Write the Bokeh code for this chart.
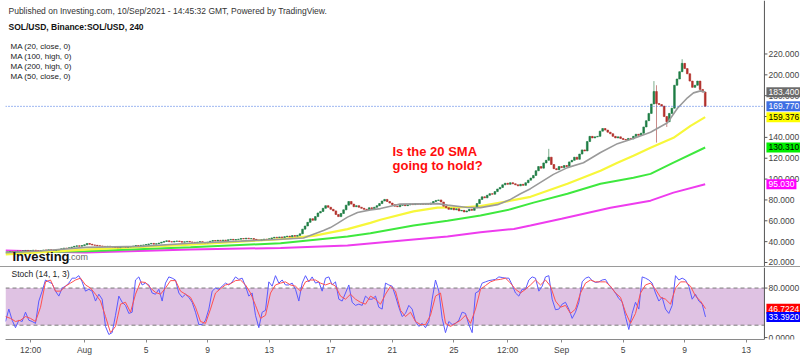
import numpy as np
from bokeh.plotting import figure
from bokeh.models import Range1d, FixedTicker, Label, Span, BoxAnnotation, Div
from bokeh.layouts import column
from bokeh.embed import file_html
from bokeh.resources import INLINE

FONT = "Liberation Sans"

# ---------------- data (time = days from 1 Aug 2021 00:00, 4h candles) ----------------
candle_start_day = -5.0          # 27 Jul 00:00
candle_hours = 4
first_open = 29.6
close = [
    30.0, 30.5, 29.8, 30.6, 31.0, 30.8,
    31.2, 31.6, 31.0, 31.4, 31.8, 31.5,
    31.2, 31.5, 32.0, 31.8, 32.2, 31.9,
    31.6, 32.0, 32.5, 33.2, 33.8, 33.5,
    34.2, 34.8, 35.5, 36.0, 35.6, 36.2,
    37.0, 38.2, 37.5, 36.8, 36.5, 36.0,
    35.8, 35.5, 35.2, 35.6, 35.0, 34.8,
    34.5, 34.2, 34.8, 35.2, 34.6, 34.9,
    35.2, 35.8, 36.3, 36.0, 36.5, 36.8,
    37.2, 37.8, 38.3, 37.6, 38.0, 38.6,
    39.5, 40.2, 40.8, 40.0, 39.6, 40.3,
    40.6, 40.1, 39.5, 39.8, 40.2, 39.7,
    39.4, 39.0, 39.6, 40.0, 39.2, 38.8,
    39.5, 40.4, 41.0, 40.6, 41.3, 41.0,
    41.5, 41.0, 41.8, 42.2, 41.6, 42.0,
    42.4, 43.0, 42.6, 43.3, 42.8, 43.0,
    42.2, 41.6, 41.0, 41.8, 42.4, 42.0,
    42.8, 43.6, 44.2, 43.8, 44.5, 44.0,
    44.8, 45.3, 44.6, 45.8, 45.2, 46.0,
    47.5, 52.0, 55.0, 58.5, 62.0, 60.5,
    64.0, 67.5, 69.0, 72.0, 74.5, 73.0,
    71.0, 69.5, 66.0, 64.0, 67.0, 70.5,
    75.0, 78.5, 76.0, 73.5, 74.5, 73.0,
    72.0, 71.0, 70.5, 72.5, 71.5, 73.0,
    74.5, 76.5, 79.0, 80.5, 78.5, 77.0,
    75.5, 74.0, 73.5, 74.8, 75.5, 74.5,
    75.2, 76.0, 75.5, 76.5, 75.8, 76.3,
    75.8, 76.5, 75.9, 77.0, 78.5, 79.5,
    80.0, 78.0, 74.0, 72.5, 71.0, 72.0,
    70.5, 71.5, 69.5, 70.0, 68.5, 69.5,
    71.0, 70.0, 72.5, 76.5, 80.5, 83.0,
    82.0, 84.5, 86.0, 85.5, 88.0, 90.5,
    92.0, 94.5, 96.0, 95.0, 96.5, 95.5,
    94.5, 93.5, 95.0, 94.0, 96.5, 99.0,
    101.0, 103.5, 108.0, 112.0, 110.5, 115.5,
    118.0, 121.0, 114.0, 110.0, 109.0, 112.0,
    111.0, 113.0, 112.0, 116.5, 118.0, 121.0,
    119.0, 124.0, 128.0, 127.0, 136.0, 141.0,
    139.5, 140.5, 141.0, 146.0, 148.5, 147.0,
    145.0, 143.5, 141.0, 139.5, 140.5, 139.0,
    138.0, 137.5, 139.0, 138.5, 141.0, 143.0,
    142.0, 144.0, 150.0, 156.0, 163.0, 172.0,
    184.0, 172.5, 171.5, 170.0, 160.0, 155.0,
    163.0, 168.0, 190.0, 196.0, 203.0, 211.0,
    206.0, 201.0, 194.0, 188.0, 190.0, 194.0,
    186.0, 183.5, 169.77,
]
wick_high = {211: 129.0, 252: 194.0, 253: 190.0, 263: 215.0}
wick_low = {253: 135.0, 257: 150.0}

ma20_day = [-5.13, -2.86, 0.06, 3.64, 6.89, 10.14, 12.74, 14.23, 15.53, 15.98, 16.44, 17.09, 17.74,
            18.58, 19.23, 19.88, 20.5, 22.94, 23.59, 24.9, 25.73, 26.84, 27.68, 28.33, 28.98, 30.47,
            31.38, 32.42, 33.53, 34.63, 35.67, 36.78, 37.88, 38.53, 39.18, 39.57, 40.03, 40.33]
ma20 = [29.5, 31.0, 34.5, 35.5, 38.5, 40.5, 42.3, 43.5, 50.6, 53.5, 57.5, 63.5, 68.0,
        70.5, 71.7, 74.0, 76.0, 76.5, 75.0, 72.8, 72.6, 75.5, 80.5, 86.0, 90.8, 104.5,
        111.0, 115.7, 125.5, 134.0, 139.0, 145.0, 154.0, 168.0, 178.0, 182.7, 184.6, 183.4]

ma50_day = [-5.13, 0.06, 6.89, 12.74, 14.88, 17.09, 18.58, 19.23, 21.38, 22.94, 24.63, 25.73,
            26.84, 27.68, 28.98, 31.38, 33.53, 34.63, 35.67, 36.78, 38.27, 39.38, 40.33]
ma50 = [27.7, 32.4, 37.0, 42.5, 45.5, 52.0, 58.0, 61.0, 69.0, 72.6, 73.0, 74.0,
        77.0, 79.3, 83.0, 95.6, 108.0, 115.7, 122.4, 130.0, 139.6, 151.0, 159.4]

ma100_day = [-5.13, 0.06, 6.89, 12.74, 17.09, 18.58, 21.38, 23.59, 25.73, 27.68, 29.18, 31.38,
             33.53, 35.67, 36.78, 38.27, 40.33]
ma100 = [29.6, 30.8, 34.6, 38.5, 45.0, 48.0, 55.4, 60.0, 65.0, 71.0, 77.4, 86.0,
         95.6, 101.3, 105.0, 115.7, 130.3]

ma200_day = [-5.13, -2.86, 0.06, 6.89, 12.74, 17.09, 21.38, 23.59, 25.73, 27.9, 28.98, 31.0,
             34.18, 36.78, 38.27, 40.33]
ma200 = [31.5, 30.5, 29.5, 32.4, 34.0, 36.3, 42.0, 44.9, 49.0, 52.2, 55.4, 62.0,
         72.6, 79.3, 87.0, 95.0]

# Stochastic readings, sampled on regular grids starting at the left edge of the chart
k_start_day, k_step_day = -5.133, 0.21659
stoch_k = [
    26, 46, 28, 16, 28, 26, 41, 28, 26, 23,
    59, 75, 93, 90, 87, 75, 67, 80, 83, 88,
    96, 96, 100, 90, 75, 78, 75, 59, 70, 62,
    18, 5, 8, 36, 67, 57, 52, 39, 41, 93,
    98, 85, 88, 85, 72, 70, 78, 59, 88, 98,
    96, 93, 72, 65, 70, 65, 57, 41, 21, 21,
    28, 46, 75, 80, 78, 83, 88, 85, 90, 98,
    94, 96, 83, 67, 72, 36, 16, 41, 44, 90,
    83, 100, 88, 93, 85, 85, 88, 78, 59, 88,
    100, 90, 98, 88, 90, 75, 96, 98, 85, 90,
    62, 59, 72, 85, 57, 52, 54, 52, 67, 62,
    62, 67, 49, 46, 88, 85, 83, 67, 49,
    34, 39, 52, 46, 26, 18, 23, 16, 26, 62,
    93, 75, 31, 8, 26, 21, 23, 28, 41, 39,
    21, 8, 72, 75, 88, 90, 92, 93, 94, 98,
    97, 96, 96, 85, 72, 67, 78, 78, 93, 98,
    96, 75, 83, 98, 100, 62, 45, 46, 54, 57,
    46, 31, 41, 57, 90, 96, 98, 92, 89, 90,
    93, 94, 85, 79, 72, 63, 58, 34, 13, 39,
    57, 46, 98, 96, 93, 88, 72, 59, 65, 46,
    39, 52, 100, 93, 96, 93, 83, 62, 70, 59,
    54, 33.392,
]
d_start_day, d_step_day = -5.133, 0.32489
stoch_d = [
    34, 31, 26, 28, 34, 31, 26, 49, 90, 93,
    75, 75, 83, 88, 93, 96, 85, 80, 70, 59,
    34, 8, 18, 54, 57, 41, 70, 90, 89, 80,
    73, 70, 80, 92, 92, 75, 70, 65, 49, 26,
    23, 46, 72, 79, 85, 87, 92, 93, 85, 72,
    52, 31, 36, 72, 85, 88, 90, 85, 83, 75,
    90, 93, 93, 88, 85, 88, 83, 67, 62, 70,
    62, 57, 54, 67, 62, 54, 70, 83, 75,
    44, 34, 41, 26, 21, 21, 36, 67, 72, 23,
    18, 23, 28, 36, 23, 46, 78, 84, 90, 93,
    94, 96, 88, 78, 72, 78, 85, 93, 85, 93,
    83, 59, 49, 52, 39, 46, 72, 88, 93, 90,
    90, 90, 83, 72, 65, 41, 23, 39, 72, 85,
    88, 78, 65, 62, 54, 80, 90, 90, 83, 67,
    59, 46.7224,
]

price_ticks = [20, 40, 60, 80, 100, 120, 140, 160, 180, 200, 220]
stoch_ticks = [0, 80]
stoch_band = (20, 80)
time_ticks = [-3.5, 0, 4, 8, 12, 16, 20, 24, 27.5, 31, 35, 39, 43]
time_labels = ["12:00", "Aug", "5", "9", "13", "17", "21", "25", "12:00", "Sep", "5", "9", "13"]

last_price = 169.77
ma_tags = [(183.4, "183.400", "#6b6b6b", "white"),
           (169.77, "169.770", "#3f6fe3", "white"),
           (159.376, "159.376", "#ffff00", "black"),
           (130.31, "130.310", "#00ee00", "black"),
           (95.03, "95.030", "#ff00ff", "white")]
stoch_tags = [(46.7224, "46.7224", "#ff0000", "white"),
              (33.392, "33.3920", "#0000ff", "white")]

# ---------------- derived candle arrays ----------------
n = len(close)
t = candle_start_day + np.arange(n) * candle_hours / 24.0
opens = [first_open] + close[:-1]
highs = [max(o, c) for o, c in zip(opens, close)]
lows = [min(o, c) for o, c in zip(opens, close)]
for i, v in wick_high.items():
    highs[i] = v
for i, v in wick_low.items():
    lows[i] = v
up = [c >= o for o, c in zip(opens, close)]
body_col = ["#1f7d45" if u else "#b3302b" for u in up]
wick_col = ["#7fae8f" if u else "#c98a88" for u in up]
tops = [max(o, c) for o, c in zip(opens, close)]
bots = [min(o, c) for o, c in zip(opens, close)]

# ---------------- layout constants ----------------
W = 800
MAIN_H = 266
BL = 5
PX_PER_DAY = 15.39
X0 = -5.133                      # day at the left edge of the plotting area
X_AXIS = 44.18                   # day where the price scale starts
FRAME_W = W - BL
xr = Range1d(X0, X0 + FRAME_W / PX_PER_DAY)
TICK_LEN = 3 / PX_PER_DAY
LABEL_X = X_AXIS + 4 / PX_PER_DAY
TAG_SX = (X_AXIS - X0) * PX_PER_DAY + 2


def right_scale(fig, ticks, fmt):
    fig.add_layout(Span(location=X_AXIS, dimension="height", line_color="#555555", line_width=1))
    fig.segment(x0=[X_AXIS] * len(ticks), y0=ticks, x1=[X_AXIS + TICK_LEN] * len(ticks), y1=ticks,
                line_color="#555555", line_width=1)
    fig.text(x=[LABEL_X] * len(ticks), y=ticks, text=[fmt % v for v in ticks],
             text_font={"value": FONT}, text_font_size="8.5px", text_color="#444444",
             text_align="left", text_baseline="middle")


def tag(fig, val, text, bg, fg):
    fig.add_layout(Label(x=TAG_SX, y=val, x_units="screen", y_units="data", text=text,
                         text_font=FONT, text_font_size="8.5px", text_color=fg,
                         text_align="left", text_baseline="middle",
                         background_fill_color=bg, background_fill_alpha=1.0, padding=2))


def slab(fig, x, y, text, size, color="#222222", style="normal", baseline="middle"):
    fig.add_layout(Label(x=x, y=y, x_units="screen", y_units="screen", text=text,
                         text_font=FONT, text_font_size=size, text_color=color,
                         text_font_style=style, text_align="left", text_baseline=baseline))


# ---------------- main price panel ----------------
p = figure(width=W, height=MAIN_H, x_range=xr, y_range=Range1d(16.16, 271.3),
           output_backend="svg", toolbar_location=None, x_axis_location=None,
           y_axis_location=None, min_border_left=BL, min_border_right=0,
           min_border_top=0, min_border_bottom=0)
p.grid.visible = False
p.outline_line_color = None
p.background_fill_color = "white"

p.line(ma200_day, ma200, line_color="#ee3cee", line_width=2)
p.line(ma100_day, ma100, line_color="#3ee83e", line_width=2)
p.line(ma50_day, ma50, line_color="#f7f73a", line_width=2.2)
p.segment(x0=t, y0=lows, x1=t, y1=highs, line_color=wick_col, line_width=1)
p.vbar(x=t, width=0.11, top=tops, bottom=bots, fill_color=body_col, line_color=body_col, line_width=0.6)
p.line(ma20_day, ma20, line_color="#9a9a9a", line_width=1.6)

p.segment(x0=[X0], y0=[last_price], x1=[X_AXIS], y1=[last_price], line_color="#3f6fe3",
          line_dash="1 2", line_width=1)
right_scale(p, price_ticks, "%.3f")

slab(p, 3, MAIN_H - 10, "Published on Investing.com, 10/Sep/2021 - 14:45:32 GMT, Powered by TradingView.", "8.5px", "#333333")
slab(p, 3, MAIN_H - 26, "SOL/USD, Binance:SOL/USD, 240", "8.5px", "#111111", "bold")
for k, txt in enumerate(["MA (20, close, 0)", "MA (100, high, 0)", "MA (200, high, 0)", "MA (50, close, 0)"]):
    slab(p, 5, MAIN_H - (45.5 + 10 * k), txt, "8px", "#222222")

slab(p, 387, MAIN_H - 151, "Is the 20 SMA", "13px", "#ff0d0d", "bold")
slab(p, 387, MAIN_H - 165, "going to hold?", "13px", "#ff0d0d", "bold")

slab(p, 7, MAIN_H - 256, "Investing", "13px", "#111111", "bold", "alphabetic")
slab(p, 63, MAIN_H - 256, ".com", "9px", "#666666", "normal", "alphabetic")

for val, txt, bg, fg in ma_tags:
    tag(p, val, txt, bg, fg)

# ---------------- stochastic panel ----------------
s = figure(width=W, height=90, x_range=xr, y_range=Range1d(-3.1, 113.2),
           output_backend="svg", toolbar_location=None, y_axis_location=None,
           min_border_left=BL, min_border_right=0, min_border_top=0, min_border_bottom=15)
s.grid.visible = False
s.outline_line_color = None
s.add_layout(BoxAnnotation(left=X0, right=X_AXIS, bottom=stoch_band[0], top=stoch_band[1],
                           fill_color="#dfc2e3", fill_alpha=1.0, line_color=None, level="underlay"))
s.segment(x0=[X0, X0], y0=list(stoch_band), x1=[X_AXIS, X_AXIS], y1=list(stoch_band),
          line_color="#7a7a7a", line_dash="4 3", line_width=1)
kx = k_start_day + k_step_day * np.arange(len(stoch_k))
dx = d_start_day + d_step_day * np.arange(len(stoch_d))
s.line(kx, stoch_k, line_color="#5a5aff", line_width=1)
s.line(dx, stoch_d, line_color="#ff5050", line_width=1)
right_scale(s, stoch_ticks, "%.4f")

sx = s.xaxis[0]
sx.bounds = (X0, X_AXIS)
sx.ticker = FixedTicker(ticks=time_ticks)
sx.major_label_overrides = {tk: lb for tk, lb in zip(time_ticks, time_labels)}
sx.major_label_text_font = FONT
sx.major_label_text_font_size = "8.5px"
sx.major_label_text_color = "#444444"
sx.axis_line_color = "#8a8a8a"
sx.major_tick_line_color = "#8a8a8a"
sx.major_tick_out = 3
sx.major_tick_in = 0
sx.minor_tick_line_color = None
sx.major_label_standoff = 2

slab(s, 6, 66, "Stoch (14, 1, 3)", "8.5px", "#222222")
for val, txt, bg, fg in stoch_tags:
    tag(s, val, txt, bg, fg)

sep = Div(width=W, height=1, margin=(0, 0, 0, 0), styles={"background-color": "#9a9a9a"})
page = column(p, sep, s, spacing=0)
open("out.html", "w").write(file_html(page, INLINE))
